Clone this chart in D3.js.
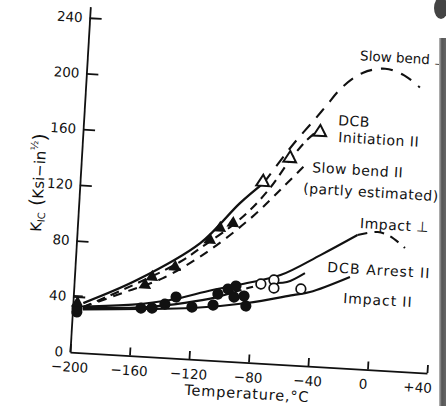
<!DOCTYPE html>
<html><head><meta charset="utf-8">
<script src="https://cdn.jsdelivr.net/npm/d3@7"></script>
<style>
body{margin:0;background:#fff}
svg{display:block}
text{font-family:"DejaVu Sans",sans-serif;fill:#111}
</style></head><body>
<svg id="c" width="446" height="406"></svg>
<script>
// ---- tick labels ----
const xTicks = [-200, -160, -120, -80, -40, 0, 40];
const yTicks = [0, 40, 80, 120, 160, 200, 240];

// ---- curves (temperature °C, K_IC ksi·in^1/2) ----
const slowBendPerpT = [-193, -158, -117, -92, -77];
const slowBendPerpK = [35.6, 54.3, 83.4, 113.7, 129];
const slowBendPerpEstT = [-77, -67, -58, -45, -38, -28, -15, 0, 13, 24];
const slowBendPerpEstK = [129, 145, 159, 177, 187, 201, 212, 216, 212, 204];
const dcbInitT = [-193, -156, -130, -114, -96, -85, -72.5, -60.5, -51, -44.6];
const dcbInitK = [32.7, 53, 69, 82.2, 97.6, 109.1, 125.7, 146, 160, 167];
const slowBend2T = [-193, -165.5, -140.6, -112.2, -83.4, -63.8, -48.1];
const slowBend2K = [32.7, 45.2, 56.8, 77.3, 104.2, 126.9, 145.8];
const impactPerpT = [-193, -160, -135, -107, -84, -62, -36, -12];
const impactPerpK = [33, 36.5, 41.4, 50.4, 56.8, 63.9, 79.9, 95.8];
const impactPerpEstT = [-12, 1.5, 9.8, 20.3];
const impactPerpEstK = [95.8, 98.8, 96.4, 88.5];
const dcbArrestT = [-193, -150, -125, -105, -92];
const dcbArrestK = [32, 35.5, 40, 45, 50];
const dcbArrestDashT = [-92, -75, -66];
const dcbArrestDashK = [50, 56, 58];
const dcbArrestEndT = [-66, -57.4, -45.7];
const dcbArrestEndK = [58, 59.2, 66.4];
const impact2T = [-193, -154.8, -120, -83.4, -52.9, -41.6, -15.4];
const impact2K = [31, 33.7, 36.6, 42.5, 50.1, 53, 65.5];

// ---- points ----
const triFilledT = [-197, -152.4, -148, -133, -110.7, -104.4, -95.9];
const triFilledK = [35.3, 51.1, 57.1, 65.2, 86, 95, 99];
const triOpenT = [-77.5, -60.3, -41.2];
const triOpenK = [129.7, 147.9, 167.8];
const circFilledT = [-197, -197, -154.2, -146.8, -138.3, -131.1, -120.1, -106, -103.2, -96.6, -91.4, -92.3, -84, -85.6];
const circFilledK = [28.9, 31.5, 34.4, 34.9, 38.3, 43.8, 37.3, 39.6, 47.7, 51.7, 54.2, 46.2, 40.3, 47.4];
const circOpenT = [-74.8, -66.2, -65.9, -47.8];
const circOpenK = [56.7, 60.1, 54.3, 54.8];
const errT = -197, errLo = 30, errHi = 40.4;

// ---- labels ----
const labelText = ["Slow bend \u22A5", "DCB", "Initiation II", "Slow bend II", "(partly estimated)", "Impact \u22A5", "DCB Arrest II", "Impact II"];
const labelT = [-17.3, -29.4, -28.7, -45, -50.2, -10.7, -31, -19];
const labelK = [221, 173.6, 161.5, 138.8, 123.5, 100.9, 68, 46.6];
const labelSpacing = [0, 0.5, 0.5, 0.5, 0.5, 0.5, 1.1, 0.9];

const svg = d3.select("#c");
const g = svg.append("g").attr("transform", "translate(70,352) rotate(3.37)");

const x = d3.scaleLinear().domain([-200, 40]).range([0, 357.6]);
const y = d3.scaleLinear().domain([0, 248]).range([0, -346]);

const fmt = d => d > 0 ? "+" + d : (d < 0 ? "\u2212" + Math.abs(d) : "0");
const gx = g.append("g").call(d3.axisBottom(x).tickValues(xTicks).tickSize(-8).tickSizeOuter(0).tickPadding(10).tickFormat(fmt));
const gy = g.append("g").call(d3.axisLeft(y).tickValues(yTicks).tickSize(-12).tickSizeOuter(0).tickPadding(7).tickFormat(d3.format("d")));
[gx, gy].forEach(a => {
  a.selectAll("path,line").attr("stroke", "#111").attr("stroke-width", 1.8);
  a.selectAll("text").attr("font-size", 13.5).attr("font-family", "DejaVu Sans").attr("fill", "#111");
});
gy.selectAll(".tick").filter(d => d === 0).select("line").remove();
gx.selectAll(".tick").filter(d => d === 40).select("text").attr("dx", -9);
gx.selectAll(".tick").filter(d => d === 0).select("text").attr("dx", -4);

const zip = (T, K) => T.map((t, i) => [t, K[i]]);
const line = d3.line().x(d => x(d[0])).y(d => y(d[1])).curve(d3.curveCatmullRom.alpha(0.5));
function drawLine(T, K, dash, w) {
  g.append("path").attr("d", line(zip(T, K))).attr("fill", "none")
    .attr("stroke", "#111").attr("stroke-width", w || 2.1)
    .attr("stroke-dasharray", dash || null);
}
drawLine(slowBendPerpT, slowBendPerpK, null, 2.4);
drawLine(slowBendPerpEstT, slowBendPerpEstK, "12,9", 2.1);
drawLine(dcbInitT, dcbInitK, "9,6", 2.1);
drawLine(slowBend2T, slowBend2K, "9,7", 2.1);
drawLine(impactPerpT, impactPerpK, null, 2.1);
drawLine(impactPerpEstT, impactPerpEstK, "10,7", 2.1);
drawLine(dcbArrestT, dcbArrestK, null, 2.1);
drawLine(dcbArrestDashT, dcbArrestDashK, "7,5", 2.1);
drawLine(dcbArrestEndT, dcbArrestEndK, null, 2.1);
drawLine(impact2T, impact2K, null, 2.1);

// error bar
g.append("line").attr("x1", x(errT)).attr("x2", x(errT)).attr("y1", y(errLo)).attr("y2", y(errHi)).attr("stroke", "#111").attr("stroke-width", 1.6);
g.append("line").attr("x1", x(errT) - 4).attr("x2", x(errT) + 5).attr("y1", y(errHi)).attr("y2", y(errHi)).attr("stroke", "#111").attr("stroke-width", 1.6);

const tri = d3.symbol().type(d3.symbolTriangle).size(70);
g.selectAll(".cf").data(zip(circFilledT, circFilledK)).join("circle")
  .attr("cx", d => x(d[0])).attr("cy", d => y(d[1])).attr("r", 5.6).attr("fill", "#111");
g.selectAll(".tf").data(zip(triFilledT, triFilledK)).join("path")
  .attr("d", tri).attr("transform", d => `translate(${x(d[0])},${y(d[1])})`).attr("fill", "#111");
g.selectAll(".to").data(zip(triOpenT, triOpenK)).join("path")
  .attr("d", tri).attr("transform", d => `translate(${x(d[0])},${y(d[1])})`)
  .attr("fill", "#fff").attr("stroke", "#111").attr("stroke-width", 2);
g.selectAll(".co").data(zip(circOpenT, circOpenK)).join("circle")
  .attr("cx", d => x(d[0])).attr("cy", d => y(d[1])).attr("r", 4.8)
  .attr("fill", "#fff").attr("stroke", "#111").attr("stroke-width", 1.7);

// annotations
labelText.forEach((t, i) => {
  g.append("text").attr("x", x(labelT[i])).attr("y", y(labelK[i]))
    .attr("font-size", i === 0 ? 13.5 : 14).attr("letter-spacing", labelSpacing[i]).text(t);
});

// axis titles
g.append("text").attr("x", 179).attr("y", 36).attr("text-anchor", "middle")
  .attr("font-size", 14.5).attr("letter-spacing", 0.8).text("Temperature,\u00B0C");
const yt = g.append("text").attr("transform", "translate(-36,-118) rotate(-90)")
  .attr("font-size", 15);
yt.append("tspan").text("K");
yt.append("tspan").attr("font-size", 10).attr("dy", 3).text("IC");
yt.append("tspan").attr("dy", -3).attr("font-size", 19).text(" (");
yt.append("tspan").attr("font-size", 15).text("Ksi\u2212in");
yt.append("tspan").attr("font-size", 10).attr("dy", -8).text("\u00BD");
yt.append("tspan").attr("font-size", 19).attr("dy", 8).text(")");

// scan edge shadow on right
const grad = svg.append("defs").append("linearGradient").attr("id", "sh");
grad.append("stop").attr("offset", "0").attr("stop-color", "#bbb");
grad.append("stop").attr("offset", "0.4").attr("stop-color", "#555");
grad.append("stop").attr("offset", "1").attr("stop-color", "#666");
svg.append("rect").attr("x", 439).attr("y", 38).attr("width", 7).attr("height", 368).attr("fill", "url(#sh)");
svg.append("ellipse").attr("cx", 441).attr("cy", 8).attr("rx", 7).attr("ry", 11).attr("fill", "#444");
</script>
</body></html>
